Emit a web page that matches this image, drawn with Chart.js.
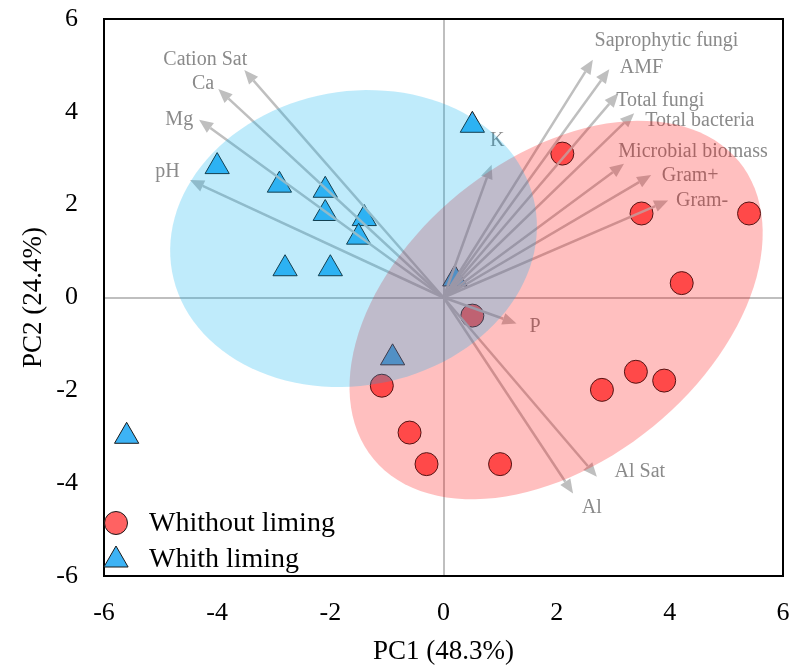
<!DOCTYPE html>
<html>
<head>
<meta charset="utf-8">
<script src="https://cdn.jsdelivr.net/npm/chart.js@4.4.0/dist/chart.umd.min.js"></script>
<style>
  html, body { margin: 0; padding: 0; background: #fff; }
</style>
</head>
<body>
<canvas id="pcaChart" width="795" height="668"></canvas>
<script>
// PCA scores
const withoutX = [2.1, 3.5, 5.4, 4.21, 0.51, 3.4, 3.9, 2.8, 1.0, -1.09, -0.6, -0.3]
const withoutY = [3.1, 1.81, 1.81, 0.31, -0.39, -1.6, -1.79, -1.99, -3.59, -1.9, -2.91, -3.59]
const withX = [-4.0, -2.9, -2.09, -2.09, -1.4, -1.5, -2.8, -2.0, 0.51, 0.2, -0.9, -5.6]
const withY = [2.82, 2.42, 2.31, 1.81, 1.7, 1.3, 0.62, 0.62, 3.71, 0.4, -1.3, -2.99]

// variable loadings (arrow tips) and where their names sit
const varNames = ['Cation Sat', 'Ca', 'Mg', 'pH', 'Saprophytic fungi', 'AMF', 'Total fungi', 'Total bacteria',
  'Microbial biomass', 'Gram+', 'Gram-', 'K', 'P', 'Al Sat', 'Al']
const loadX = [-3.52, -3.98, -4.32, -4.48, 2.64, 2.93, 3.09, 3.37, 3.19, 3.67, 3.97, 0.85, 1.29, 2.71, 2.29]
const loadY = [4.9, 4.49, 3.83, 2.53, 5.12, 4.92, 4.4, 3.97, 2.88, 2.64, 2.09, 2.86, -0.56, -3.86, -4.22]
const labelX = [-4.21, -4.25, -4.67, -4.88, 3.94, 3.5, 3.83, 4.53, 4.41, 4.36, 4.57, 0.95, 1.62, 3.47, 2.62]
const labelY = [5.13, 4.6, 3.84, 2.71, 5.53, 4.94, 4.24, 3.8, 3.14, 2.63, 2.09, 3.37, -0.63, -3.75, -4.52]

const xTicks = [-6, -4, -2, 0, 2, 4, 6]
const yTicks = [-6, -4, -2, 0, 2, 4, 6]

// group ellipses: centre x, centre y, semi-axis a, semi-axis b, angle (deg)
const withoutEllipse = [1.99, -0.27, 4.61, 2.95, 52.6]
const withEllipse = [-1.59, 1.27, 3.35, 3.085, 40.5]

const serif = '"Liberation Serif", "Times New Roman", serif'

const toPoints = (xs, ys) => xs.map((v, i) => ({ x: v, y: ys[i] }))

function drawEllipse(chart, e, color) {
  const { ctx, scales: { x, y } } = chart
  const [cx, cy, a, b, deg] = e
  const th = deg * Math.PI / 180
  ctx.beginPath()
  for (let k = 0; k <= 120; k++) {
    const t = k / 120 * Math.PI * 2
    const dx = cx + a * Math.cos(th) * Math.cos(t) - b * Math.sin(th) * Math.sin(t)
    const dy = cy + a * Math.sin(th) * Math.cos(t) + b * Math.cos(th) * Math.sin(t)
    const px = x.getPixelForValue(dx), py = y.getPixelForValue(dy)
    if (k === 0) ctx.moveTo(px, py)
    else ctx.lineTo(px, py)
  }
  ctx.closePath()
  ctx.fillStyle = color
  ctx.fill()
}

const biplot = {
  id: 'biplot',
  afterDatasetsDraw(chart) {
    const { ctx, scales: { x, y } } = chart
    const ox = x.getPixelForValue(0)
    const oy = y.getPixelForValue(0)
    ctx.save()
    ctx.strokeStyle = '#bfbfbf'
    ctx.fillStyle = '#bfbfbf'
    ctx.lineWidth = 2.5
    varNames.forEach((name, i) => {
      const tx = x.getPixelForValue(loadX[i])
      const ty = y.getPixelForValue(loadY[i])
      const ang = Math.atan2(ty - oy, tx - ox)
      const head = 14, half = 6
      const bx = tx - head * Math.cos(ang)
      const by = ty - head * Math.sin(ang)
      ctx.beginPath()
      ctx.moveTo(ox, oy)
      ctx.lineTo(bx, by)
      ctx.stroke()
      ctx.beginPath()
      ctx.moveTo(tx, ty)
      ctx.lineTo(bx + half * Math.sin(ang), by - half * Math.cos(ang))
      ctx.lineTo(bx - half * Math.sin(ang), by + half * Math.cos(ang))
      ctx.closePath()
      ctx.fill()
    })
    ctx.fillStyle = '#8a8a8a'
    ctx.font = '20px ' + serif
    ctx.textAlign = 'center'
    ctx.textBaseline = 'middle'
    varNames.forEach((name, i) => {
      ctx.fillText(name, x.getPixelForValue(labelX[i]), y.getPixelForValue(labelY[i]))
    })
    // ellipses sit over the points and arrows
    drawEllipse(chart, withoutEllipse, 'rgba(255, 0, 0, 0.25)')
    drawEllipse(chart, withEllipse, 'rgba(0, 176, 240, 0.25)')
    ctx.restore()
  },
  afterDraw(chart) {
    const { ctx, chartArea: area } = chart
    ctx.save()
    ctx.strokeStyle = '#000'
    ctx.lineWidth = 2
    ctx.strokeRect(area.left, area.top, area.right - area.left, area.bottom - area.top)

    // legend in the lower left corner
    const rows = [area.bottom - 53, area.bottom - 16]
    const base = [area.bottom - 45, area.bottom - 9]
    ctx.font = '28px ' + serif
    ctx.textAlign = 'left'
    ctx.textBaseline = 'alphabetic'
    chart.data.datasets.forEach((ds, i) => {
      ctx.fillStyle = ds.backgroundColor
      ctx.strokeStyle = ds.borderColor
      ctx.lineWidth = ds.borderWidth
      Chart.helpers.drawPoint(ctx, { pointStyle: ds.pointStyle, radius: ds.pointRadius, rotation: 0, borderWidth: ds.borderWidth },
        area.left + 12, rows[i])
      ctx.fillStyle = '#000'
      ctx.fillText(ds.label, area.left + 45, base[i])
    })
    ctx.restore()
  },
}

const zeroLine = (c) => (c.tick && c.tick.value === 0 ? '#bfbfbf' : 'rgba(0,0,0,0)')

new Chart(document.getElementById('pcaChart'), {
  type: 'scatter',
  data: {
    datasets: [
      {
        label: 'Whithout liming',
        data: toPoints(withoutX, withoutY),
        pointStyle: 'circle',
        pointRadius: 11.5,
        backgroundColor: '#ff6262',
        borderColor: '#1a1a1a',
        borderWidth: 1,
      },
      {
        label: 'Whith liming',
        data: toPoints(withX, withY),
        pointStyle: 'triangle',
        pointRadius: 14,
        backgroundColor: '#3db3f5',
        borderColor: '#1a1a1a',
        borderWidth: 1,
      },
    ],
  },
  options: {
    responsive: false,
    animation: false,
    events: [],
    layout: { autoPadding: false, padding: { top: 19, right: 12, left: 0, bottom: 0 } },
    plugins: { legend: { display: false }, tooltip: { enabled: false } },
    scales: {
      x: {
        type: 'linear',
        min: -6,
        max: 6,
        afterBuildTicks: (s) => { s.ticks = xTicks.map((v) => ({ value: v })) },
        afterFit: (s) => { s.height = 92; s.paddingLeft = 0; s.paddingRight = 0 },
        ticks: { font: { family: serif, size: 26 }, color: '#000', padding: 22 },
        grid: { color: zeroLine, lineWidth: 2, drawTicks: false },
        border: { display: false },
        title: { display: true, text: 'PC1 (48.3%)', font: { family: serif, size: 27 }, color: '#000', padding: 0 },
      },
      y: {
        type: 'linear',
        min: -6,
        max: 6,
        afterBuildTicks: (s) => { s.ticks = yTicks.map((v) => ({ value: v })) },
        afterFit: (s) => { s.width = 104; s.paddingTop = 0; s.paddingBottom = 0 },
        ticks: { font: { family: serif, size: 26 }, color: '#000', padding: 26 },
        grid: { color: zeroLine, lineWidth: 2, drawTicks: false },
        border: { display: false },
        title: { display: true, text: 'PC2 (24.4%)', font: { family: serif, size: 27 }, color: '#000', padding: { top: 18, bottom: 0 } },
      },
    },
  },
  plugins: [biplot],
})
</script>
</body>
</html>
